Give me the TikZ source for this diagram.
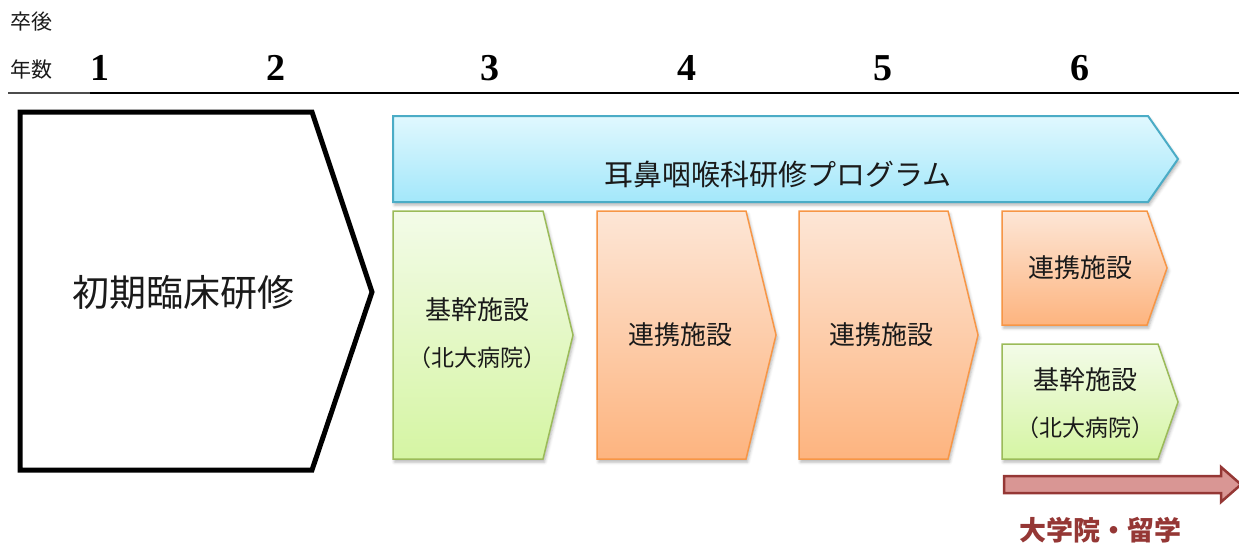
\documentclass[tikz,border=0pt]{standalone}
\usepackage{fontspec}
\setmainfont{Noto Sans CJK JP}
\newfontfamily\numfont{Liberation Serif}
\usepackage{tikz}
\usetikzlibrary{shadows.blur, calc}

\definecolor{progline}{HTML}{4BACC6}
\definecolor{progtop}{HTML}{E0F8FE}
\definecolor{progbot}{HTML}{A3E7FA}
\definecolor{kikanline}{HTML}{9BBB59}
\definecolor{kikantop}{HTML}{F3FBE8}
\definecolor{kikanbot}{HTML}{D5F5A3}
\definecolor{renkeiline}{HTML}{F79646}
\definecolor{renkeitop}{HTML}{FDE6D6}
\definecolor{renkeibot}{HTML}{FDB47F}
\definecolor{gradfill}{HTML}{D99694}
\definecolor{gradline}{HTML}{953735}
\definecolor{txt}{HTML}{1A1A1A}

\tikzset{
  boxshadow/.style={blur shadow={shadow xshift=1.5pt, shadow yshift=-3pt, shadow opacity=30, shadow blur radius=3pt}},
  progbox/.style={draw=progline, line width=2pt, top color=progtop, bottom color=progbot, boxshadow},
  kikanbox/.style={draw=kikanline, line width=1.5pt, top color=kikantop, bottom color=kikanbot, boxshadow},
  renkeibox/.style={draw=renkeiline, line width=1.5pt, top color=renkeitop, bottom color=renkeibot, boxshadow},
  yearnum/.style={font=\numfont\bfseries\fontsize{38}{40}\selectfont, inner sep=0pt},
  headtxt/.style={font=\fontsize{21}{24}\selectfont, text=txt, inner sep=0pt},
  boxtxt/.style={font=\fontsize{26}{30}\selectfont, text=txt, inner sep=0pt},
  subtxt/.style={font=\fontsize{23}{26}\selectfont, text=txt, inner sep=0pt}
}

\begin{document}
\begin{tikzpicture}[x=1pt, y=-1pt]
        \useasboundingbox (0,0) rectangle (1239,542);

        % header
        \node[headtxt] (sotsugo) at (31,22) {卒後};
        \node[headtxt] (nensu) at (31,70) {年数};
        \node[yearnum] (y1) at (100,68) {1};
        \node[yearnum] (y2) at (276,68) {2};
        \node[yearnum] (y3) at (490,68) {3};
        \node[yearnum] (y4) at (687,68) {4};
        \node[yearnum] (y5) at (883,68) {5};
        \node[yearnum] (y6) at (1080,68) {6};
        \draw[line width=1.2pt, black!70] (8,93) -- (90,93);
        \draw[line width=1.6pt] (90,93) -- (1239,93);

        % initial training
        \draw[line width=5pt, line join=miter] (20,112) -- (312,112) -- (372,292) -- (312,470) -- (20,470) -- cycle;
        \node[font=\fontsize{37}{40}\selectfont, text=txt] (shoki) at (183,292) {初期臨床研修};

        % programme arrow
        \path[progbox] (393,116) -- (1148,116) -- (1178,159) -- (1148,202) -- (393,202) -- cycle;
        \node[font=\fontsize{29}{32}\selectfont, text=txt, inner sep=0pt] (prog) at (778,174) {耳鼻咽喉科研修プログラム};

        % year 3
        \path[kikanbox] (393,211) -- (543,211) -- (573,335) -- (543,459) -- (393,459) -- cycle;
        \node[boxtxt] (kikanA) at (477,310) {基幹施設};
        \node[subtxt] (hokudaiA) at (477,358) {（北大病院）};

        % year 4 and 5
        \path[renkeibox] (597,211) -- (746,211) -- (776,335) -- (746,459) -- (597,459) -- cycle;
        \node[boxtxt] (renkeiB) at (680,335) {連携施設};
        \path[renkeibox] (799,211) -- (948,211) -- (978,335) -- (948,459) -- (799,459) -- cycle;
        \node[boxtxt] (renkeiC) at (881,335) {連携施設};

        % year 6
        \path[renkeibox] (1002,211) -- (1147,211) -- (1167,268) -- (1147,325) -- (1002,325) -- cycle;
        \node[boxtxt] (renkeiD) at (1080,268) {連携施設};
        \path[kikanbox] (1002,344) -- (1158,344) -- (1178,402) -- (1158,459) -- (1002,459) -- cycle;
        \node[boxtxt] (kikanE) at (1085,380) {基幹施設};
        \node[subtxt] (hokudaiE) at (1085,428) {（北大病院）};

        % graduate school
        \draw[fill=gradfill, draw=gradline, line width=2.5pt, line join=miter] (1004,476) -- (1221,476) -- (1221,467) -- (1241,484.5) -- (1221,502) -- (1221,493) -- (1004,493) -- cycle;
        \node[font=\bfseries\fontsize{27}{30}\selectfont, text=gradline, inner sep=0pt] (daigakuin) at (1100,530) {大学院・留学};
    \end{tikzpicture}
\end{document}
